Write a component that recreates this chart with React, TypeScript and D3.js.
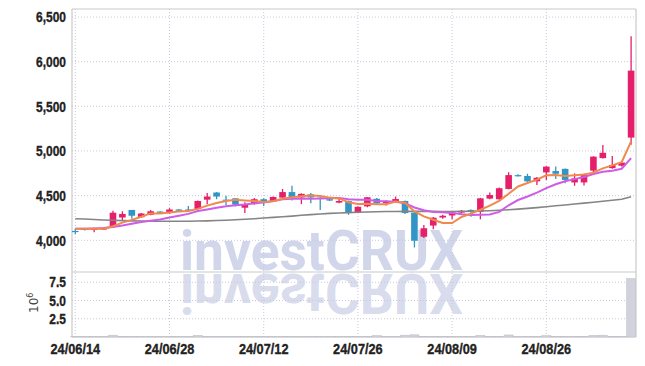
import React, { useEffect, useRef } from "react";
import * as d3 from "d3";

// trading days, 24/06/14 .. 24/09/06 (08/15 holiday)
const dates = [
  "24/06/14", "24/06/17", "24/06/18", "24/06/19", "24/06/20", "24/06/21",
  "24/06/24", "24/06/25", "24/06/26", "24/06/27", "24/06/28",
  "24/07/01", "24/07/02", "24/07/03", "24/07/04", "24/07/05",
  "24/07/08", "24/07/09", "24/07/10", "24/07/11", "24/07/12",
  "24/07/15", "24/07/16", "24/07/17", "24/07/18", "24/07/19",
  "24/07/22", "24/07/23", "24/07/24", "24/07/25", "24/07/26",
  "24/07/29", "24/07/30", "24/07/31", "24/08/01", "24/08/02",
  "24/08/05", "24/08/06", "24/08/07", "24/08/08", "24/08/09",
  "24/08/12", "24/08/13", "24/08/14", "24/08/16",
  "24/08/19", "24/08/20", "24/08/21", "24/08/22", "24/08/23",
  "24/08/26", "24/08/27", "24/08/28", "24/08/29", "24/08/30",
  "24/09/02", "24/09/03", "24/09/04", "24/09/05", "24/09/06",
];

const opens = [
  4105, 4130, 4115, 4120, 4152, 4255, 4340, 4258, 4285, 4322,
  4305, 4345, 4345, 4350, 4455, 4535, 4455, 4470, 4365, 4405,
  4460, 4435, 4478, 4540, 4480, 4515, 4478, 4460, 4422, 4440,
  4315, 4380, 4465, 4415, 4435, 4440, 4310, 4040, 4165, 4255,
  4278, 4310, 4340, 4320, 4467, 4460, 4575, 4730, 4720, 4660,
  4760, 4775, 4800, 4648, 4648, 4780, 4920, 4808, 4835, 5150,
];
const highs = [
  4130, 4135, 4140, 4145, 4330, 4325, 4340, 4305, 4340, 4325,
  4360, 4350, 4385, 4445, 4530, 4540, 4500, 4470, 4425, 4475,
  4470, 4490, 4575, 4610, 4525, 4530, 4480, 4465, 4470, 4445,
  4380, 4485, 4475, 4445, 4490, 4445, 4315, 4170, 4260, 4285,
  4318, 4340, 4345, 4475, 4535, 4590, 4762, 4740, 4745, 4710,
  4830, 4825, 4805, 4750, 4745, 4940, 5068, 4945, 4872, 6285,
];
const lows = [
  4070, 4110, 4090, 4115, 4140, 4220, 4240, 4255, 4280, 4300,
  4295, 4325, 4320, 4345, 4405, 4460, 4395, 4380, 4305, 4400,
  4385, 4430, 4475, 4445, 4405, 4415, 4340, 4440, 4415, 4285,
  4305, 4370, 4400, 4390, 4430, 4295, 3920, 4025, 4125, 4240,
  4235, 4300, 4265, 4235, 4460, 4455, 4570, 4715, 4655, 4620,
  4676, 4685, 4640, 4610, 4615, 4750, 4915, 4800, 4825, 5070,
];
const closes = [
  4095, 4120, 4130, 4135, 4309, 4295, 4275, 4300, 4325, 4312,
  4345, 4330, 4335, 4440, 4490, 4490, 4450, 4400, 4405, 4460,
  4435, 4485, 4540, 4485, 4520, 4480, 4462, 4445, 4440, 4310,
  4375, 4482, 4415, 4440, 4462, 4305, 3995, 4135, 4253, 4275,
  4312, 4330, 4322, 4470, 4507, 4583, 4730, 4725, 4660, 4700,
  4825, 4745, 4676, 4694, 4740, 4937, 4980, 4843, 4870, 5900,
];

const ma5 = [
  4130, 4128, 4128, 4130, 4158, 4198, 4229, 4263, 4301, 4301,
  4311, 4322, 4329, 4352, 4388, 4417, 4441, 4454, 4447, 4441,
  4430, 4437, 4465, 4481, 4493, 4502, 4497, 4478, 4469, 4427,
  4406, 4410, 4404, 4404, 4435, 4421, 4323, 4267, 4230, 4193,
  4194, 4261, 4298, 4342, 4388, 4442, 4522, 4603, 4641, 4680,
  4728, 4731, 4721, 4728, 4736, 4758, 4805, 4839, 4874, 5106,
];
const ma10 = [
  4128, 4130, 4133, 4137, 4148, 4165, 4185, 4205, 4218, 4232,
  4255, 4276, 4296, 4327, 4345, 4364, 4382, 4392, 4400, 4415,
  4424, 4439, 4460, 4464, 4467, 4466, 4467, 4472, 4475, 4460,
  4454, 4454, 4441, 4437, 4431, 4414, 4367, 4336, 4317, 4314,
  4307, 4292, 4283, 4286, 4290, 4318, 4392, 4451, 4491, 4534,
  4585, 4627, 4662, 4685, 4708, 4743, 4768, 4780, 4801, 4921,
];
const ma60 = [
  4242, 4238, 4233, 4228, 4224, 4220, 4218, 4216, 4214, 4213,
  4213, 4213, 4214, 4216, 4218, 4221, 4225, 4230, 4236, 4242,
  4250, 4257, 4264, 4271, 4280, 4288, 4295, 4301, 4306, 4310,
  4314, 4317, 4320, 4322, 4323, 4324, 4324, 4324, 4324, 4323,
  4323, 4324, 4326, 4328, 4331, 4336, 4342, 4349, 4357, 4366,
  4376, 4386, 4396, 4406, 4416, 4426, 4437, 4448, 4460, 4487,
];

// volume, millions of shares
const volumes = [
  0.05, 0.04, 0.05, 0.04, 0.25, 0.08, 0.06, 0.05, 0.06, 0.04,
  0.05, 0.04, 0.06, 0.22, 0.08, 0.06, 0.05, 0.06, 0.07, 0.05,
  0.04, 0.05, 0.08, 0.07, 0.05, 0.06, 0.05, 0.04, 0.05, 0.09,
  0.06, 0.08, 0.2, 0.05, 0.06, 0.25, 0.3, 0.1, 0.08, 0.05,
  0.06, 0.05, 0.06, 0.22, 0.08, 0.1, 0.28, 0.06, 0.08, 0.07,
  0.2, 0.1, 0.08, 0.07, 0.08, 0.22, 0.25, 0.1, 0.06, 8.0,
];

const priceTicks = [4000, 4500, 5000, 5500, 6000, 6500];
const volumeTicks = [2.5, 5, 7.5];
const dateTickIndex = [0, 10, 20, 30, 40, 50];

const UP = "#e61f6b";
const DOWN = "#3196c6";
const GRID = "#c9c9dc";
const BORDER = "#cacaca";
// no narrow font installed, so squeeze Liberation Sans horizontally
const LABEL_FONT = "'Liberation Sans', Arial, sans-serif";
const SQUEEZE = 0.8;

function App() {
  const svgRef = useRef<SVGSVGElement>(null);
  const [width, height] = [645, 366];
  const plot = { left: 72, right: 636, top: 9, split: 272, bottom: 337 };

  useEffect(() => {
    const svg = d3.select(svgRef.current);
    svg.selectAll("*").remove();

    const x = d3.scaleLinear().domain([-0.35, 59.52]).range([plot.left, plot.right]);
    const y = d3.scaleLinear().domain([3645, 6590]).range([plot.split, plot.top]);
    const yv = d3.scaleLinear().domain([0, 8.9]).range([plot.bottom, plot.split]);
    const idx = d3.range(dates.length);

    // watermark + reflection
    const wm = svg.append("g");
    wm.append("text")
      .attr("x", 180)
      .attr("y", 270)
      .attr("font-family", "Roboto, 'DejaVu Sans', sans-serif")
      .attr("font-weight", "bold")
      .attr("font-size", 56)
      .attr("textLength", 283)
      .attr("lengthAdjust", "spacingAndGlyphs")
      .attr("fill", "#d1d6ea")
      .text("investCRUX");
    wm.append("text")
      .attr("x", 180)
      .attr("y", 270)
      .attr("transform", `translate(0,${2 * 272}) scale(1,-1)`)
      .attr("font-family", "Roboto, 'DejaVu Sans', sans-serif")
      .attr("font-weight", "bold")
      .attr("font-size", 56)
      .attr("textLength", 283)
      .attr("lengthAdjust", "spacingAndGlyphs")
      .attr("fill", "#d1d6ea")
      .attr("fill-opacity", 0.85)
      .text("investCRUX");

    // grid
    const grid = svg.append("g").attr("stroke", GRID).attr("stroke-dasharray", "1,2");
    grid.selectAll(".hp")
      .data(priceTicks)
      .join("line")
      .attr("x1", plot.left)
      .attr("x2", plot.right)
      .attr("y1", (d) => y(d))
      .attr("y2", (d) => y(d));
    grid.selectAll(".hv")
      .data(volumeTicks)
      .join("line")
      .attr("class", "hv")
      .attr("x1", plot.left)
      .attr("x2", plot.right)
      .attr("y1", (d) => yv(d))
      .attr("y2", (d) => yv(d));
    grid.selectAll(".vx")
      .data(dateTickIndex)
      .join("line")
      .attr("class", "vx")
      .attr("x1", (d) => x(d))
      .attr("x2", (d) => x(d))
      .attr("y1", plot.top)
      .attr("y2", plot.bottom);

    // panel borders
    const b = svg.append("g").attr("stroke", BORDER).attr("stroke-width", 1.2);
    b.append("line").attr("x1", plot.left).attr("x2", plot.right).attr("y1", plot.top).attr("y2", plot.top);
    b.append("line").attr("x1", plot.left).attr("x2", plot.right).attr("y1", plot.split).attr("y2", plot.split);
    b.append("line").attr("x1", plot.left).attr("x2", plot.right).attr("y1", plot.bottom).attr("y2", plot.bottom);
    b.append("line").attr("x1", plot.left).attr("x2", plot.left).attr("y1", plot.top).attr("y2", plot.bottom);
    b.append("line").attr("x1", plot.right).attr("x2", plot.right).attr("y1", plot.top).attr("y2", plot.bottom);

    // volume bars
    svg.append("g")
      .selectAll("rect")
      .data(idx)
      .join("rect")
      .attr("x", (i) => x(i) - 4.5)
      .attr("width", 9)
      .attr("y", (i) => yv(volumes[i]))
      .attr("height", (i) => plot.bottom - yv(volumes[i]))
      .attr("fill", "#d2d2dc")
      .attr("stroke", "#bcbcc8")
      .attr("stroke-width", 0.5);

    // candles
    const candles = svg.append("g");
    candles.selectAll(".wick")
      .data(idx)
      .join("line")
      .attr("class", "wick")
      .attr("x1", (i) => x(i))
      .attr("x2", (i) => x(i))
      .attr("y1", (i) => y(highs[i]))
      .attr("y2", (i) => y(lows[i]))
      .attr("stroke", (i) => (closes[i] >= opens[i] ? UP : DOWN))
      .attr("stroke-width", 1.3);
    candles.selectAll(".body")
      .data(idx)
      .join("rect")
      .attr("class", "body")
      .attr("x", (i) => x(i) - 3.3)
      .attr("width", 6.6)
      .attr("y", (i) => y(Math.max(opens[i], closes[i])))
      .attr("height", (i) => Math.max(1.2, Math.abs(y(opens[i]) - y(closes[i]))))
      .attr("fill", (i) => (closes[i] >= opens[i] ? UP : DOWN));

    // moving averages
    const line = (vals: number[]) =>
      d3.line<number>().x((i) => x(i)).y((i) => y(vals[i]))(idx);
    svg.append("path").attr("d", line(ma60)).attr("fill", "none").attr("stroke", "#858585").attr("stroke-width", 1.6);
    svg.append("path").attr("d", line(ma10)).attr("fill", "none").attr("stroke", "#cf5ce6").attr("stroke-width", 2);
    svg.append("path").attr("d", line(ma5)).attr("fill", "none").attr("stroke", "#f08a4c").attr("stroke-width", 2);

    // axis labels
    const labels = svg.append("g")
      .attr("font-family", LABEL_FONT)
      .attr("font-size", 15)
      .attr("font-weight", "bold")
      .attr("fill", "#222")
      .attr("stroke", "#222")
      .attr("stroke-width", 0.35);
    labels.selectAll(".py")
      .data(priceTicks)
      .join("text")
      .attr("class", "py")
      .attr("transform", (d) => `translate(66,${y(d)}) scale(${SQUEEZE},1)`)
      .attr("dy", "0.35em")
      .attr("text-anchor", "end")
      .text((d) => d3.format(",")(d));
    labels.selectAll(".vy")
      .data(volumeTicks)
      .join("text")
      .attr("class", "vy")
      .attr("transform", (d) => `translate(66,${yv(d)}) scale(${SQUEEZE},1)`)
      .attr("dy", "0.35em")
      .attr("text-anchor", "end")
      .text((d) => d3.format(".1f")(d));
    labels.selectAll(".dx")
      .data(dateTickIndex)
      .join("text")
      .attr("class", "dx")
      .attr("transform", (i) => `translate(${x(i)},354) scale(0.85,1)`)
      .attr("text-anchor", "middle")
      .text((i) => dates[i]);

    const unit = svg.append("text")
      .attr("transform", "translate(37.5,313) rotate(-90)")
      .attr("font-family", "'DejaVu Sans', sans-serif")
      .attr("font-size", 12)
      .attr("fill", "#444");
    unit.append("tspan").text("10");
    unit.append("tspan").attr("font-size", 8).attr("dy", -5).text("6");
  }, []);

  return (
    <div>
      <svg ref={svgRef} width={width} height={height} style={{ position: "absolute", left: 0, top: 0 }}></svg>
    </div>
  );
}

export default App;
